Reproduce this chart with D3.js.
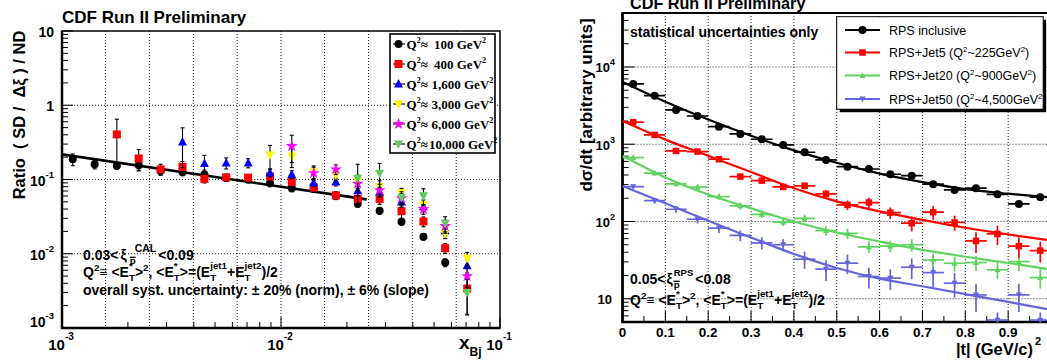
<!DOCTYPE html>
<html><head><meta charset="utf-8">
<script src="https://cdn.jsdelivr.net/npm/d3@7"></script>
<style>body{margin:0;background:#fff;overflow:hidden}</style>
</head><body><svg id="c" width="1047" height="362"></svg>
<script>
// ---------------- DATA: left panel (ratio SD/ND vs x_Bj) ----------------
const N = null;
const xBj = [0.00112,0.00141,0.00178,0.00224,0.00282,0.00355,0.00447,0.00562,0.00708,0.00891,0.0112,0.0141,0.0178,0.0224,0.0282,0.0355,0.0447,0.0562,0.0708];
const q2Labels = ["100","400","1,600","3,000","6,000","10,000"];
const ratio100   = [0.187,0.160,0.153,0.156,0.130,0.125,0.117,0.105,0.100,0.089,0.076,0.075,0.060,0.047,0.038,0.027,0.017,0.0076,N];
const err100     = [0.18,0.13,0.10,0.15,0.10,0.10,0.15,0.10,0.10,0.10,0.10,0.10,0.10,0.10,0.10,0.10,0.10,0.12,N];
const ratio400   = [N,N,0.405,0.192,0.137,0.148,0.102,0.107,0.106,0.110,0.093,0.078,0.061,0.055,0.0545,0.0375,0.0272,0.0119,0.0034];
const err400     = [N,N,0.60,0.32,0.17,0.18,0.12,0.10,0.10,0.10,0.10,0.10,0.12,0.20,0.15,0.20,0.15,0.15,0.55];
const ratio1600  = [N,N,N,N,N,0.32,0.165,0.167,0.167,0.123,0.117,0.091,0.093,0.0705,0.068,0.050,0.043,0.0205,0.0069];
const err1600    = [N,N,N,N,N,0.55,0.28,0.17,0.14,0.12,0.12,0.12,0.12,0.15,0.15,0.15,0.15,0.15,0.20];
const ratio3000  = [N,N,N,N,N,N,N,N,N,0.213,0.207,0.127,0.115,0.095,0.080,0.066,0.046,0.0188,0.0087];
const err3000    = [N,N,N,N,N,N,N,N,N,0.35,0.30,0.20,0.15,0.20,0.20,0.15,0.15,0.15,0.20];
const ratio6000  = [N,N,N,N,N,N,N,N,N,N,0.282,0.122,0.137,0.088,0.072,0.056,0.040,0.0236,0.0050];
const err6000    = [N,N,N,N,N,N,N,N,N,N,0.40,0.20,0.15,0.20,0.20,0.15,0.15,0.20,0.30];
const ratio10000 = [N,N,N,N,N,N,N,N,N,N,N,N,N,0.1035,0.121,0.057,0.060,0.0256,0.0030];
const err10000   = [N,N,N,N,N,N,N,N,N,N,N,N,N,0.55,0.36,0.20,0.25,0.23,0.50];
const fitX = [0.001, 0.0246];
const fitY = [0.218, 0.054];

// ---------------- DATA: right panel (dsigma/dt vs |t|) ----------------
const tBins = [0.025,0.075,0.125,0.175,0.225,0.275,0.325,0.375,0.425,0.475,0.525,0.575,0.625,0.675,0.725,0.775,0.825,0.875,0.925,0.975];
const tHalf = [0.025,0.025,0.025,0.025,0.025,0.025,0.025,0.025,0.025,0.025,0.025,0.025,0.025,0.025,0.025,0.025,0.025,0.025,0.025,0.025];
const rpsIncl = [6030,4255,2780,2320,1690,1360,1160,980,788,626,513,478,409,392,304,256,270,225,169,206];
const errIncl = [0.03,0.03,0.03,0.03,0.03,0.03,0.03,0.03,0.04,0.04,0.04,0.04,0.04,0.04,0.05,0.05,0.05,0.05,0.06,0.05];
const rpsJet5 = [1930,1320,819,804,640,381,338,280,290,228,164,176,130,95,132,97,56,69,48,42];
const errJet5 = [0.04,0.05,0.06,0.06,0.07,0.08,0.08,0.09,0.10,0.12,0.14,0.15,0.17,0.22,0.20,0.22,0.30,0.28,0.30,0.30];
const rpsJet20 = [671,422,306,278,210,159,124,98,110,76,70,47,48,50,31.8,28.8,29.4,23.7,30.3,18.8];
const errJet20 = [0.05,0.07,0.07,0.08,0.09,0.10,0.10,0.11,0.12,0.14,0.15,0.17,0.17,0.18,0.20,0.22,0.22,0.24,0.25,0.28];
const rpsJet50 = [283,186,144,107,82,66,53,50,32.5,24.2,28.9,19.4,18.5,25.6,21.8,15.9,11.2,5.3,11.2,5.3];
const errJet50 = [0.06,0.08,0.10,0.12,0.14,0.16,0.18,0.18,0.25,0.30,0.28,0.30,0.30,0.30,0.35,0.35,0.40,0.25,0.40,0.25];
const fitT = [0,0.1,0.2,0.3,0.4,0.5,0.6,0.7,0.8,0.9,1.0];
const fitIncl  = [6400,3550,2090,1290,832,575,417,324,263,229,204];
const fitJet5  = [1995,1148,708,437,269,182,135,105,83,68,57];
const fitJet20 = [708,372,224,148,100,72,55,43,35,29,24];
const fitJet50 = [288,172,102,62,38,25,18.2,14.5,11.5,9.1,7.2];
const rightLegend = ["RPS inclusive","RPS+Jet5 (Q","RPS+Jet20 (Q","RPS+Jet50 (Q"];
const rightLegendQ = ["","~225GeV","~900GeV","~4,500GeV"];

// ---------------- RENDER ----------------
const FONT = '"Liberation Sans", Arial, Helvetica, sans-serif';
const SERIF = '"Liberation Serif", "Times New Roman", serif';
const svg = d3.select('#c');

function marker(g, type, x, y, color, s) {
  if (type === 'circle') g.append('circle').attr('cx', x).attr('cy', y).attr('r', s / 2).attr('fill', color);
  else if (type === 'square') g.append('rect').attr('x', x - s / 2).attr('y', y - s / 2).attr('width', s).attr('height', s).attr('fill', color);
  else if (type === 'up') g.append('path').attr('d', `M${x},${y - s * 0.55}L${x + s / 2},${y + s * 0.4}L${x - s / 2},${y + s * 0.4}Z`).attr('fill', color);
  else if (type === 'down') g.append('path').attr('d', `M${x},${y + s * 0.55}L${x + s / 2},${y - s * 0.4}L${x - s / 2},${y - s * 0.4}Z`).attr('fill', color);
  else if (type === 'star') g.append('path').attr('d', d3.symbol(d3.symbolStar, s * s * 0.45)()).attr('transform', `translate(${x},${y})`).attr('fill', color);
}

// parts: ['n',txt] | ['sup',txt] | ['sub',txt] | ['ss',sup,sub,bar,supDx,supScale] | ['gap',px]
function rich(g, x, y, parts, fs) {
  let cx = x;
  const sm = fs * 0.7;
  const put = (t, xx, yy, size) => g.append('text').attr('x', xx).attr('y', yy)
    .attr('font-size', size).attr('font-weight', 'bold').attr('font-family', FONT).text(t);
  parts.forEach(p => {
    const k = p[0];
    if (k === 'n') { const t = put(p[1], cx, y, fs); cx += t.node().getComputedTextLength(); }
    else if (k === 'sup') { const t = put(p[1], cx, y - fs * 0.45, sm); cx += t.node().getComputedTextLength(); }
    else if (k === 'sub') { const t = put(p[1], cx, y + fs * 0.3, sm); cx += t.node().getComputedTextLength(); }
    else if (k === 'ss') {
      const dx = p[4] || 0, ssz = fs * (p[5] || 0.7);
      const t1 = put(p[1], cx + dx, y - fs * 0.55, ssz);
      const t2 = put(p[2], cx, y + fs * 0.3, sm);
      const w1 = t1.node().getComputedTextLength() + dx, w2 = t2.node().getComputedTextLength();
      if (p[3]) {
        const yb = y + fs * 0.3 - sm * 0.7;
        g.append('line').attr('x1', cx).attr('x2', cx + w2).attr('y1', yb).attr('y2', yb).attr('stroke', '#000').attr('stroke-width', 1.3);
      }
      cx += Math.max(w1, w2);
    }
    else if (k === 'gap') cx += p[1];
  });
  return cx;
}

const qLine = [['n','Q'],['sup','2'],['n',' \u2261 <E'],['ss','*','T'],['n','>'],['sup','2'],['n',',  <E'],['ss','*','T'],
  ['n','>=(E'],['ss','jet1','T'],['n',' +E'],['ss','jet2','T'],['n',')/2']];

// ===== LEFT PANEL =====
const L = { x0: 62, x1: 500, y0: 31, y1: 328 };
const xL = d3.scaleLog().domain([1e-3, 1e-1]).range([L.x0, L.x1]);
const yL = d3.scaleLog().domain([1e-3, 10]).range([L.y1, L.y0]);
const gl = svg.append('g');

// grid
const gridXL = [0.00158,0.00251,0.00398,0.00631,0.01,0.0158,0.0251,0.0398,0.0631];
const gridYL = [0.01, 0.1, 1];
gridXL.forEach(v => gl.append('line').attr('x1', xL(v)).attr('x2', xL(v)).attr('y1', L.y0).attr('y2', L.y1)
  .attr('stroke', '#222').attr('stroke-width', 1).attr('stroke-dasharray', '1,2'));
gridYL.forEach(v => gl.append('line').attr('x1', L.x0).attr('x2', L.x1).attr('y1', yL(v)).attr('y2', yL(v))
  .attr('stroke', '#222').attr('stroke-width', 1).attr('stroke-dasharray', '1,2'));

// ticks
const isDecade = v => Math.abs(Math.log10(v) - Math.round(Math.log10(v))) < 1e-6;
yL.ticks().forEach(v => {
  const len = isDecade(v) ? 11 : 6;
  gl.append('line').attr('x1', L.x0).attr('x2', L.x0 + len).attr('y1', yL(v)).attr('y2', yL(v)).attr('stroke', '#000').attr('stroke-width', 1);
});
xL.ticks().forEach(v => {
  const len = isDecade(v) ? 11 : 6;
  gl.append('line').attr('x1', xL(v)).attr('x2', xL(v)).attr('y1', L.y1).attr('y2', L.y1 - len).attr('stroke', '#000').attr('stroke-width', 1);
});

// frame
gl.append('rect').attr('x', L.x0).attr('y', L.y0).attr('width', L.x1 - L.x0).attr('height', L.y1 - L.y0)
  .attr('fill', 'none').attr('stroke', '#000').attr('stroke-width', 1.5);
gl.append('line').attr('x1', L.x0).attr('x2', L.x0).attr('y1', L.y0).attr('y2', L.y1 + 1).attr('stroke', '#000').attr('stroke-width', 2.5);
gl.append('line').attr('x1', L.x0 - 1).attr('x2', L.x1).attr('y1', L.y1).attr('y2', L.y1).attr('stroke', '#000').attr('stroke-width', 2.5);

// y tick labels
const yLabL = [[10, '10', ''], [1, '1', ''], [0.1, '10', '-1'], [0.01, '10', '-2'], [0.001, '10', '-3']];
yLabL.forEach(([v, b, s]) => {
  const yy = v === 0.001 ? yL(v) - 1 : yL(v) + 6;
  const t = gl.append('text').attr('x', 54).attr('y', yy).attr('text-anchor', 'end')
    .attr('font-family', FONT).attr('font-weight', 'bold').attr('font-size', 14);
  t.append('tspan').text(b);
  if (s) t.append('tspan').attr('dy', -8).attr('font-size', 9.5).text(s);
});
// x tick labels
[[0.001, '-3'], [0.01, '-2'], [0.1, '-1']].forEach(([v, s]) => {
  const t = gl.append('text').attr('x', xL(v) - 1).attr('y', 350).attr('text-anchor', 'middle')
    .attr('font-family', FONT).attr('font-weight', 'bold').attr('font-size', 15);
  t.append('tspan').text('10');
  t.append('tspan').attr('dy', -10).attr('font-size', 10).text(s);
});
// axis titles
gl.append('text').attr('transform', 'translate(25,115) rotate(-90)').attr('text-anchor', 'middle')
  .attr('font-family', FONT).attr('font-weight', 'bold').attr('font-size', 16.5).attr('xml:space', 'preserve')
  .text('Ratio  ( SD /  \u0394\u03BE ) / ND');
{
  const t = gl.append('text').attr('x', 459).attr('y', 349).attr('font-family', FONT).attr('font-weight', 'bold').attr('font-size', 19);
  t.append('tspan').text('x');
  t.append('tspan').attr('dy', 7).attr('font-size', 12).text('Bj');
}
gl.append('text').attr('x', 62).attr('y', 23).attr('font-family', FONT).attr('font-weight', 'bold').attr('font-size', 17).text('CDF Run II Preliminary');

// fit line
gl.append('line').attr('x1', xL(fitX[0])).attr('y1', yL(fitY[0])).attr('x2', xL(fitX[1])).attr('y2', yL(fitY[1]))
  .attr('stroke', '#000').attr('stroke-width', 2.6);

// series
const leftSeries = [
  { vals: ratio100, errs: err100, type: 'circle', color: '#000000', s: 8 },
  { vals: ratio400, errs: err400, type: 'square', color: '#ff0000', s: 8 },
  { vals: ratio1600, errs: err1600, type: 'up', color: '#0000ff', s: 9 },
  { vals: ratio3000, errs: err3000, type: 'down', color: '#ffff00', s: 9 },
  { vals: ratio6000, errs: err6000, type: 'star', color: '#ff00ff', s: 10 },
  { vals: ratio10000, errs: err10000, type: 'down', color: '#63c963', s: 9 }
];
leftSeries.forEach(sr => {
  sr.vals.forEach((v, i) => {
    if (v == null) return;
    const e = sr.errs[i];
    const x = xL(xBj[i]);
    const yTop = yL(v * (1 + e)), yBot = yL(Math.max(v * (1 - e), 1.1e-3));
    gl.append('line').attr('x1', x).attr('x2', x).attr('y1', yTop).attr('y2', yBot).attr('stroke', '#000').attr('stroke-width', 1.1);
    [yTop, yBot].forEach(yy => gl.append('line').attr('x1', x - 2).attr('x2', x + 2).attr('y1', yy).attr('y2', yy).attr('stroke', '#000').attr('stroke-width', 1.1));
  });
  sr.vals.forEach((v, i) => {
    if (v == null) return;
    marker(gl, sr.type, xL(xBj[i]), yL(v), sr.color, sr.s);
  });
});

// left legend
gl.append('rect').attr('x', 390).attr('y', 34).attr('width', 105).attr('height', 119).attr('fill', '#fff').attr('stroke', '#000').attr('stroke-width', 1.6);
const valX = [434, 434, 431.5, 431.5, 431.5, 429];
leftSeries.forEach((sr, k) => {
  const cy = 44 + 20 * k;
  gl.append('line').attr('x1', 393).attr('x2', 405).attr('y1', cy).attr('y2', cy).attr('stroke', '#000').attr('stroke-width', 1.1);
  marker(gl, sr.type, 398.5, cy, sr.color, sr.s);
  const t = gl.append('text').attr('y', cy + 5).attr('font-family', SERIF).attr('font-weight', 'bold').attr('font-size', 13);
  t.append('tspan').attr('x', 406.5).text('Q');
  t.append('tspan').attr('dy', -6).attr('font-size', 8).text('2');
  t.append('tspan').attr('dy', 6).text('\u2248');
  t.append('tspan').attr('x', valX[k]).text(q2Labels[k] + ' GeV');
  t.append('tspan').attr('dy', -6).attr('font-size', 8).text('2');
});

// left annotations
rich(gl, 83, 260, [['n', '0.03<'], ['gap', 2], ['n', '\u03BE'], ['gap', 3], ['ss', 'CAL', 'p', true, 5, 0.75], ['gap', 2], ['n', '<0.09']], 14);
rich(gl, 83, 277, qLine, 14);
gl.append('text').attr('x', 83).attr('y', 295).attr('font-family', FONT).attr('font-weight', 'bold').attr('font-size', 14)
  .text('overall syst. uncertainty: \u00B1 20% (norm), \u00B1 6% (slope)');

// ===== RIGHT PANEL =====
const R = { x0: 622.5, x1: 1051, y0: 13, y1: 322 };
const xR = d3.scaleLinear().domain([0, 1]).range([R.x0, R.x1]);
const yR = d3.scaleLog().domain([5, 5e4]).range([R.y1, R.y0]);
const gr = svg.append('g');
svg.append('defs').append('clipPath').attr('id', 'clipR').append('rect')
  .attr('x', R.x0).attr('y', R.y0).attr('width', R.x1 - R.x0).attr('height', R.y1 - R.y0);

// grid
const gridXR = [0.1, 0.2, 0.3, 0.4, 0.5, 0.6, 0.7, 0.8, 0.9];
const gridYR = [10, 100, 1000, 10000];
gridXR.forEach(v => gr.append('line').attr('x1', xR(v)).attr('x2', xR(v)).attr('y1', R.y0).attr('y2', R.y1)
  .attr('stroke', '#222').attr('stroke-width', 1).attr('stroke-dasharray', '1,2'));
gridYR.forEach(v => gr.append('line').attr('x1', R.x0).attr('x2', R.x1).attr('y1', yR(v)).attr('y2', yR(v))
  .attr('stroke', '#222').attr('stroke-width', 1).attr('stroke-dasharray', '1,2'));
// ticks
yR.ticks().forEach(v => {
  const len = isDecade(v) ? 12 : 6;
  gr.append('line').attr('x1', R.x0).attr('x2', R.x0 + len).attr('y1', yR(v)).attr('y2', yR(v)).attr('stroke', '#000').attr('stroke-width', 1);
});
d3.range(0, 21).forEach(k => {
  const v = k * 0.05;
  const len = k % 2 === 0 ? 11 : 6;
  gr.append('line').attr('x1', xR(v)).attr('x2', xR(v)).attr('y1', R.y1).attr('y2', R.y1 - len).attr('stroke', '#000').attr('stroke-width', 1);
});
// frame
gr.append('rect').attr('x', R.x0).attr('y', R.y0).attr('width', R.x1 - R.x0).attr('height', R.y1 - R.y0)
  .attr('fill', 'none').attr('stroke', '#000').attr('stroke-width', 2);
gr.append('line').attr('x1', R.x0).attr('x2', R.x0).attr('y1', R.y0).attr('y2', R.y1 + 1).attr('stroke', '#000').attr('stroke-width', 2.6);
gr.append('line').attr('x1', R.x0 - 1).attr('x2', R.x1).attr('y1', R.y1).attr('y2', R.y1).attr('stroke', '#000').attr('stroke-width', 2.6);

// tick labels
[[10000, '4'], [1000, '3'], [100, '2'], [10, '']].forEach(([v, s]) => {
  const t = gr.append('text').attr('x', s ? 615 : 612).attr('y', yR(v) + 5.5).attr('text-anchor', 'end')
    .attr('font-family', FONT).attr('font-weight', 'bold').attr('font-size', 13);
  t.append('tspan').text('10');
  if (s) t.append('tspan').attr('dy', -7).attr('font-size', 9).text(s);
});
d3.range(0, 10).forEach(k => {
  const v = k / 10;
  gr.append('text').attr('x', xR(v)).attr('y', 337).attr('text-anchor', 'middle')
    .attr('font-family', FONT).attr('font-weight', 'bold').attr('font-size', 13.5).text(k === 0 ? '0' : d3.format('.1f')(v));
});
// titles
gr.append('text').attr('transform', 'translate(592,105) rotate(-90)').attr('text-anchor', 'middle')
  .attr('font-family', FONT).attr('font-weight', 'bold').attr('font-size', 17).text('d\u03C3/dt [arbitrary units]');
{
  gr.append('text').attr('x', 1033).attr('y', 355).attr('text-anchor', 'end')
    .attr('font-family', FONT).attr('font-weight', 'bold').attr('font-size', 16.5).text('|t| (GeV/c)');
  gr.append('text').attr('x', 1035).attr('y', 345).attr('font-family', FONT).attr('font-weight', 'bold').attr('font-size', 11).text('2');
}
gr.append('text').attr('x', 630).attr('y', 9).attr('font-family', FONT).attr('font-weight', 'bold').attr('font-size', 16.2).text('CDF Run II Preliminary');
gr.append('text').attr('x', 630).attr('y', 37).attr('font-family', FONT).attr('font-weight', 'bold').attr('font-size', 14).text('statistical uncertainties only');

// series
const rightSeries = [
  { vals: rpsJet50, errs: errJet50, fit: fitJet50, type: 'down', color: '#6464dc', s: 6 },
  { vals: rpsJet20, errs: errJet20, fit: fitJet20, type: 'up', color: '#5fd35f', s: 6 },
  { vals: rpsJet5, errs: errJet5, fit: fitJet5, type: 'square', color: '#ff0000', s: 6.5 },
  { vals: rpsIncl, errs: errIncl, fit: fitIncl, type: 'circle', color: '#000000', s: 8 }
];
const gc = gr.append('g').attr('clip-path', 'url(#clipR)');
const lineGen = d3.line().x((d, i) => xR(fitT[i])).y(d => yR(d)).curve(d3.curveMonotoneX);
rightSeries.forEach(sr => {
  gc.append('path').attr('d', lineGen(sr.fit)).attr('fill', 'none').attr('stroke', sr.color).attr('stroke-width', 2.2);
  sr.vals.forEach((v, i) => {
    const x = xR(tBins[i]);
    const y = yR(v);
    gc.append('line').attr('x1', xR(tBins[i] - tHalf[i])).attr('x2', xR(tBins[i] + tHalf[i])).attr('y1', y).attr('y2', y)
      .attr('stroke', sr.color).attr('stroke-width', 1.7);
    gc.append('line').attr('x1', x).attr('x2', x).attr('y1', yR(v * (1 + sr.errs[i]))).attr('y2', yR(Math.max(v * (1 - sr.errs[i]), 5)))
      .attr('stroke', sr.color).attr('stroke-width', 1.7);
  });
  sr.vals.forEach((v, i) => marker(gr, sr.type, xR(tBins[i]), yR(v), sr.color, sr.s));
});

// right legend
gr.append('rect').attr('x', 839.7).attr('y', 19.7).attr('width', 206.5).attr('height', 92.5).attr('fill', '#000');
gr.append('rect').attr('x', 836.7).attr('y', 16.7).attr('width', 206.5).attr('height', 92.5).attr('fill', '#fff').attr('stroke', '#000').attr('stroke-width', 1);
const legOrder = [3, 2, 1, 0];
legOrder.forEach((si, k) => {
  const sr = rightSeries[si];
  const cy = [30, 52.5, 75.5, 99][k];
  gr.append('line').attr('x1', 845).attr('x2', 880).attr('y1', cy).attr('y2', cy).attr('stroke', sr.color).attr('stroke-width', 2.2);
  marker(gr, sr.type, 862.5, cy, sr.color, sr.s);
  const t = gr.append('text').attr('x', 889).attr('y', cy + 4.5).attr('font-family', FONT).attr('font-size', 12.5);
  t.append('tspan').text(rightLegend[k]);
  if (rightLegendQ[k]) {
    t.append('tspan').attr('dy', -5).attr('font-size', 8).text('2');
    t.append('tspan').attr('dy', 5).text(rightLegendQ[k]);
    t.append('tspan').attr('dy', -5).attr('font-size', 8).text('2');
    t.append('tspan').attr('dy', 5).text(')');
  }
});

// right annotations
rich(gr, 630, 284, [['n', '0.05<'], ['gap', 1], ['n', '\u03BE'], ['gap', 1], ['ss', 'RPS', 'p', true, 0, 0.68], ['gap', 2], ['n', '<0.08']], 14);
rich(gr, 630, 305, qLine, 14);
</script>
</body></html>
